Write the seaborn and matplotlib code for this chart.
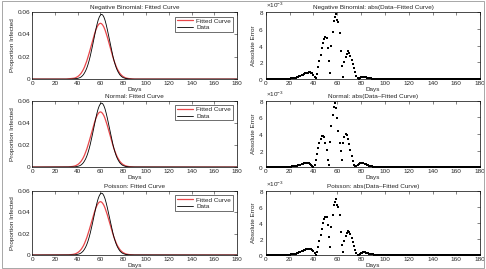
import numpy as np
import pandas as pd
import seaborn as sns
import matplotlib.pyplot as plt
from matplotlib.patches import Rectangle
from matplotlib.ticker import ScalarFormatter

# days covered by the model runs
days = np.arange(0, 181)

# Data curve, days 30..92 (zero elsewhere)
data_core = [0, 0, 0, 0, 0, 0,
             0.0001, 0.0001, 0.0002, 0.0004, 0.0006, 0.0009, 0.0013, 0.0019, 0.0028, 0.0039,
             0.0055, 0.0074, 0.0098, 0.0128, 0.0163, 0.0203, 0.0248, 0.0296, 0.0347, 0.0397,
             0.0446, 0.0490, 0.0528, 0.0556, 0.0574, 0.0580, 0.0574, 0.0556, 0.0528, 0.0490,
             0.0446, 0.0397, 0.0347, 0.0296, 0.0248, 0.0203, 0.0163, 0.0128, 0.0098, 0.0074,
             0.0055, 0.0039, 0.0028, 0.0019, 0.0013, 0.0009, 0.0006, 0.0004, 0.0002, 0.0001,
             0.0001, 0, 0, 0, 0, 0, 0]

# Fitted curve, days 30..92
fitted_core = [0.0000, 0.0001, 0.0001, 0.0002, 0.0003, 0.0004, 0.0006, 0.0008, 0.0011, 0.0016,
               0.0022, 0.0030, 0.0040, 0.0052, 0.0068, 0.0086, 0.0108, 0.0134, 0.0162, 0.0195,
               0.0229, 0.0266, 0.0303, 0.0341, 0.0378, 0.0411, 0.0441, 0.0466, 0.0484, 0.0496,
               0.0500, 0.0496, 0.0484, 0.0466, 0.0441, 0.0411, 0.0378, 0.0341, 0.0303, 0.0266,
               0.0229, 0.0195, 0.0162, 0.0134, 0.0108, 0.0086, 0.0068, 0.0052, 0.0040, 0.0030,
               0.0022, 0.0016, 0.0011, 0.0008, 0.0006, 0.0004, 0.0003, 0.0002, 0.0001, 0.0001,
               0, 0, 0]

# abs(Data - Fitted) in units of 1e-3, days 0..100
err_nb = [0, 0, 0, 0, 0, 0, 0, 0, 0.01, 0.01,
          0.01, 0.01, 0.01, 0.02, 0.02, 0.02, 0.03, 0.03, 0.04, 0.05,
          0.06, 0.07, 0.09, 0.11, 0.14, 0.18, 0.22, 0.27, 0.33, 0.39,
          0.45, 0.52, 0.60, 0.67, 0.73, 0.78, 0.81, 0.82, 0.78, 0.68,
          0.50, 0.28, 0.08, 0.60, 1.40, 2.20, 2.90, 3.70, 4.30, 4.80,
          5.00, 4.90, 3.70, 2.20, 0.70, 4.00, 5.60, 6.90, 7.40, 7.80,
          7.10, 6.80, 5.50, 3.40, 1.60, 0.30, 2.00, 2.60, 3.00, 3.30,
          3.10, 2.80, 2.30, 1.80, 1.30, 0.80, 0.40, 0.15, 0.03, 0.12,
          0.20, 0.26, 0.28, 0.26, 0.22, 0.18, 0.14, 0.10, 0.07, 0.05,
          0.03, 0.02, 0.02, 0.01, 0.01, 0.01, 0.01, 0, 0, 0, 0]
err_norm = [0, 0, 0, 0, 0, 0, 0, 0, 0, 0,
            0, 0, 0.01, 0.01, 0.01, 0.02, 0.02, 0.03, 0.03, 0.04,
            0.05, 0.06, 0.07, 0.09, 0.11, 0.13, 0.16, 0.20, 0.24, 0.29,
            0.34, 0.39, 0.44, 0.48, 0.50, 0.50, 0.47, 0.40, 0.28, 0.12,
            0.02, 0.30, 0.90, 1.60, 2.30, 2.90, 3.40, 3.70, 3.80, 3.60,
            2.90, 2.10, 0.80, 0.30, 3.00, 5.00, 6.30, 7.30, 7.70, 7.10,
            5.90, 4.40, 2.90, 1.90, 0.80, 2.90, 3.60, 4.00, 3.90, 3.40,
            2.80, 2.10, 1.30, 0.70, 0.30, 0.08, 0.10, 0.22, 0.35, 0.45,
            0.50, 0.50, 0.46, 0.40, 0.33, 0.26, 0.20, 0.15, 0.11, 0.08,
            0.06, 0.04, 0.03, 0.02, 0.02, 0.01, 0.01, 0.01, 0, 0, 0]
err_pois = [0, 0, 0, 0, 0, 0, 0, 0, 0.01, 0.01,
            0.01, 0.01, 0.01, 0.02, 0.02, 0.02, 0.03, 0.03, 0.04, 0.05,
            0.06, 0.07, 0.09, 0.11, 0.14, 0.18, 0.22, 0.27, 0.33, 0.39,
            0.45, 0.52, 0.60, 0.67, 0.73, 0.78, 0.80, 0.79, 0.74, 0.62,
            0.45, 0.25, 0.06, 0.40, 1.00, 1.80, 2.50, 3.30, 4.00, 4.50,
            4.80, 4.70, 3.80, 2.30, 1.00, 3.50, 5.00, 6.20, 6.60, 7.00,
            6.20, 6.00, 5.00, 2.90, 1.30, 0.40, 1.80, 2.40, 2.80, 3.00,
            2.90, 2.60, 2.10, 1.60, 1.10, 0.60, 0.25, 0.05, 0.05, 0.14,
            0.22, 0.28, 0.32, 0.33, 0.31, 0.27, 0.22, 0.17, 0.13, 0.09,
            0.07, 0.05, 0.03, 0.02, 0.02, 0.01, 0.01, 0.01, 0, 0, 0]

models = ['Negative Binomial', 'Normal', 'Poisson']
errors = [err_nb, err_norm, err_pois]

data = np.zeros(len(days))
data[30:93] = data_core
fitted = np.zeros(len(days))
fitted[30:93] = fitted_core

sns.set_style('white')
plt.rcParams['font.family'] = ['Liberation Sans', 'DejaVu Sans']
plt.rcParams['mathtext.fontset'] = 'custom'
plt.rcParams['mathtext.rm'] = 'Liberation Sans'

fig = plt.figure(figsize=(4.86, 2.69), dpi=100)
fig.patches.append(Rectangle((0.004, 0.004), 0.992, 0.992, transform=fig.transFigure,
                             fill=False, edgecolor='#999999', linewidth=0.6))

fs = 4.6
rows = [(0.706, 0.249), (0.379, 0.246), (0.052, 0.238)]


def style_ax(ax):
    ax.set_xlim(0, 180)
    ax.set_xticks(range(0, 181, 20))
    ax.tick_params(direction='in', top=True, right=True, length=2, width=0.4,
                   labelsize=fs, pad=1.5)
    for sp in ax.spines.values():
        sp.set_linewidth(0.5)
        sp.set_color('black')
    ax.set_xlabel('Days', fontsize=fs, labelpad=0.5)


for i, name in enumerate(models):
    bottom, height = rows[i]

    # fitted curve panel
    ax = fig.add_axes([0.066, bottom, 0.422, height])
    df = pd.DataFrame({'Days': days, 'Data': data, 'Fitted': fitted})
    sns.lineplot(data=df, x='Days', y='Fitted', color='#e8474a', linewidth=0.9,
                 label='Fitted Curve', ax=ax)
    sns.lineplot(data=df, x='Days', y='Data', color='black', linewidth=0.6,
                 label='Data', ax=ax)
    style_ax(ax)
    ax.set_ylim(0, 0.06)
    ax.set_yticks([0, 0.02, 0.04, 0.06])
    ax.set_yticklabels(['0', '0.02', '0.04', '0.06'])
    ax.set_ylabel('Proportion Infected', fontsize=fs, labelpad=2)
    ax.set_title(name + ': Fitted Curve', fontsize=fs, pad=2)
    leg = ax.legend(loc='upper right', fontsize=fs, frameon=True, fancybox=False,
                    borderpad=0.25, handlelength=2.6, handletextpad=0.5,
                    labelspacing=0.15, borderaxespad=0.7)
    leg.get_frame().set_edgecolor('black')
    leg.get_frame().set_linewidth(0.5)

    # absolute error panel
    ax2 = fig.add_axes([0.547, bottom, 0.441, height])
    err = np.zeros(len(days))
    err[:101] = np.array(errors[i]) * 1e-3
    sns.scatterplot(x=days, y=err, color='black', s=0.9, marker='s',
                    linewidth=0, ax=ax2)
    style_ax(ax2)
    ax2.set_ylim(0, 0.008)
    ax2.set_yticks([0, 0.002, 0.004, 0.006, 0.008])
    fmt = ScalarFormatter(useMathText=True)
    fmt.set_powerlimits((-2, 2))
    ax2.yaxis.set_major_formatter(fmt)
    ax2.yaxis.get_offset_text().set_fontsize(fs)
    ax2.set_ylabel('Absolute Error', fontsize=fs, labelpad=2)
    ax2.set_title(name + ': abs(Data\u2013Fitted Curve)', fontsize=fs, pad=2)

fig.savefig('out.png', dpi=100)
